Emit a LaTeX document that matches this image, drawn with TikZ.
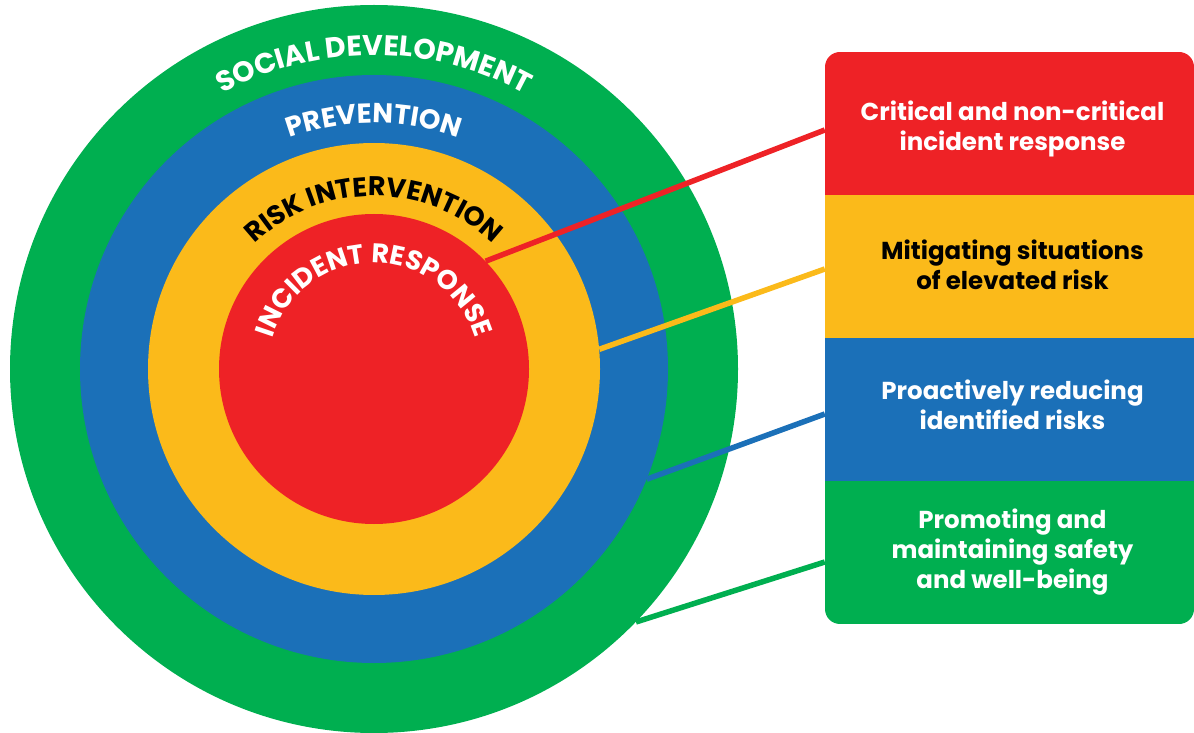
\documentclass[tikz,border=0pt]{standalone}
\usepackage{fontspec}
\setmainfont{Poppins}
\usetikzlibrary{decorations.text}
\definecolor{cgreen}{RGB}{0,175,80}
\definecolor{cblue}{RGB}{27,112,184}
\definecolor{cyellow}{RGB}{251,186,26}
\definecolor{cred}{RGB}{238,34,38}
\begin{document}
\begin{tikzpicture}[x=1pt,y=1pt,
  ring/.style={circle, inner sep=0pt, minimum size=#1},
  band/.style={rectangle, inner sep=0pt, minimum width=369pt, minimum height=143pt},
  bandtext/.style={inner sep=0pt, align=center, font=\bfseries\fontsize{24.5}{30}\selectfont},
  link/.style={line width=5.5pt},
  arclabel/.style={decorate, decoration={text along path, text align=center, text={#1}}}]
\useasboundingbox (0,0) rectangle (1194,732);
% rings
\node[ring=728pt, fill=cgreen] (g) at (374,363) {};
\node[ring=588pt, fill=cblue] (b) at (374,363) {};
\node[ring=452pt, fill=cyellow] (y) at (374,363) {};
\node[ring=310pt, fill=cred] (r) at (374,363) {};
% curved labels
\path[arclabel={|\color{white}\bfseries\fontsize{28.5}{28.5}\selectfont|SOCIAL DEVELOPMENT}]
  ([shift={(180:314)}]g.center) arc[start angle=180, end angle=0, radius=314];
\path[arclabel={|\color{white}\bfseries\fontsize{27.5}{27.5}\selectfont|PREVENTION}]
  ([shift={(180:246)}]b.center) arc[start angle=180, end angle=0, radius=246];
\path[arclabel={|\color{black}\bfseries\fontsize{27}{27}\selectfont|RISK INTERVENTION}]
  ([shift={(180:173)}]y.center) arc[start angle=180, end angle=0, radius=173];
\path[arclabel={|\color{white}\bfseries\fontsize{27}{27}\selectfont|INCIDENT RESPONSE}]
  ([shift={(180:106)}]r.center) arc[start angle=180, end angle=0, radius=106];
% box
\begin{scope}
  \clip[rounded corners=15pt] (825,108) rectangle (1194,680);
  \node[band, fill=cred] (b1) at (1009.5,608.5) {};
  \node[band, fill=cyellow] (b2) at (1009.5,465.5) {};
  \node[band, fill=cblue] (b3) at (1009.5,322.5) {};
  \node[band, fill=cgreen] (b4) at (1009.5,179.5) {};
\end{scope}
\node[bandtext, text=white] (t1) at ([xshift=3pt,yshift=-5pt]b1.center)
  {Critical and non-critical\\incident response};
\node[bandtext, text=black] (t2) at ([xshift=3pt,yshift=2pt]b2.center)
  {Mitigating situations\\of elevated risk};
\node[bandtext, text=white] (t3) at ([xshift=3pt,yshift=5pt]b3.center)
  {Proactively reducing\\identified risks};
\node[bandtext, text=white] (t4) at ([xshift=3pt]b4.center)
  {Promoting and\\maintaining safety\\and well-being};
% connectors
\draw[link, cred] (r.44) -- ([yshift=-6.5pt]b1.west);
\draw[link, cyellow] (y.5) -- ([yshift=-2.5pt]b2.west);
\draw[link, cblue] (b.-22) -- ([yshift=-4.5pt]b3.west);
\draw[link, cgreen] (g.-44) -- ([yshift=-9.5pt]b4.west);
\end{tikzpicture}
\end{document}
